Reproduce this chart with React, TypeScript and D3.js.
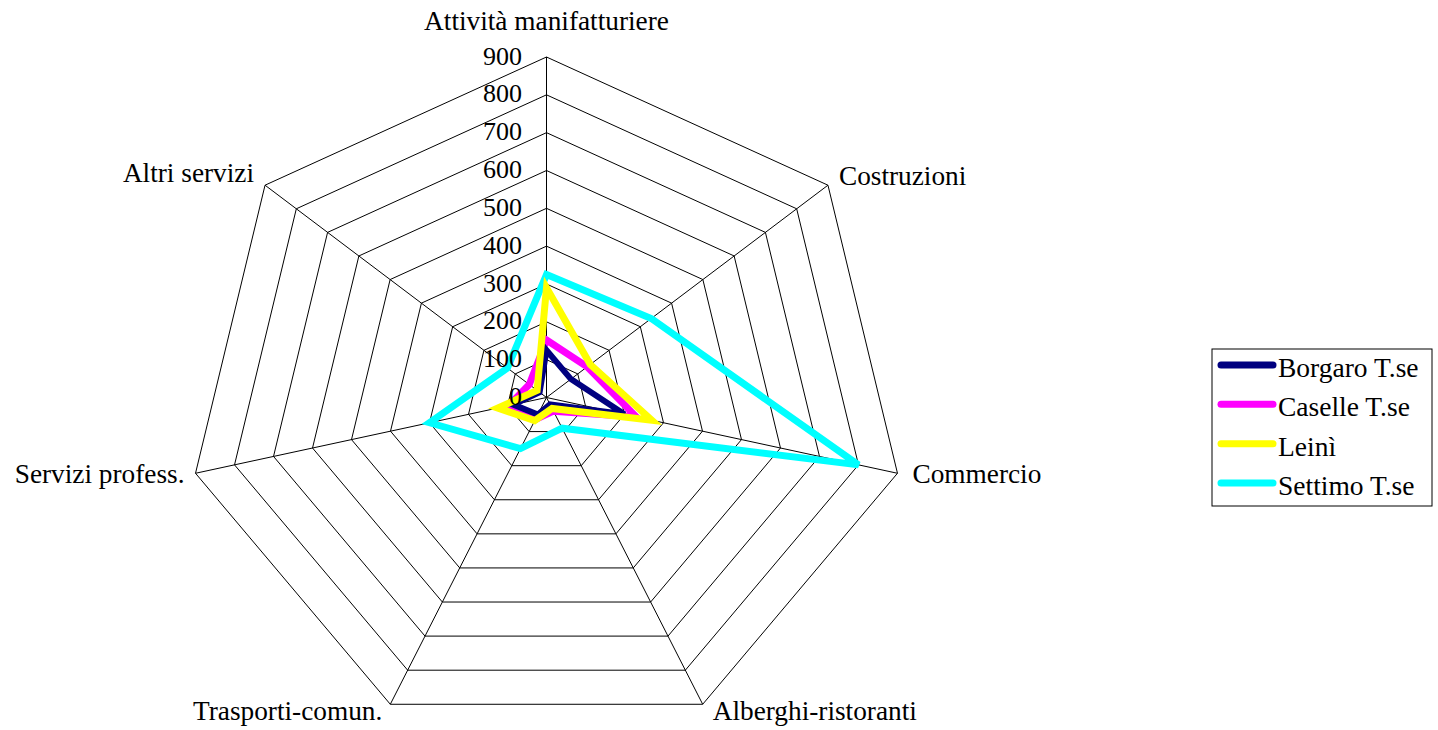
import React from "react";
import * as d3 from "d3";

const categories = [
  "Attività manifatturiere",
  "Costruzioni",
  "Commercio",
  "Alberghi-ristoranti",
  "Trasporti-comun.",
  "Servizi profess.",
  "Altri servizi",
];

const seriesNames = ["Borgaro T.se", "Caselle T.se", "Leinì", "Settimo T.se"];
const seriesColors = ["#000080", "#FF00FF", "#FFFF00", "#00FFFF"];

const borgaro = [125, 78, 200, 20, 50, 85, 22];
const caselle = [152, 130, 230, 40, 65, 97, 55];
const leini = [290, 140, 270, 32, 68, 125, 30];
const settimo = [325, 335, 800, 90, 150, 300, 125];

const tickValues = [0, 100, 200, 300, 400, 500, 600, 700, 800, 900];

const seriesValues = [borgaro, caselle, leini, settimo];
// drawing order (last on top)
const drawOrder = [3, 1, 0, 2];

const W = 1438;
const H = 730;
const cx = 546.5;
const cy = 397.5;
const RX = 360;
const RY = 340.5;
const FONT = "'Liberation Serif', 'Times New Roman', serif";

export default function App() {
  const n = categories.length;
  const angle = d3
    .scaleLinear()
    .domain([0, n])
    .range([0, 2 * Math.PI]);
  const rx = d3.scaleLinear().domain([0, 900]).range([0, RX]);
  const ry = d3.scaleLinear().domain([0, 900]).range([0, RY]);

  const pt = (i: number, v: number): [number, number] => {
    const a = angle(i);
    return [cx + rx(v) * Math.sin(a), cy - ry(v) * Math.cos(a)];
  };

  const ringPath = (v: number) =>
    d3.line().curve(d3.curveLinearClosed)(
      categories.map((_, i) => pt(i, v))
    ) as string;

  const seriesPath = (vals: number[]) =>
    d3.line().curve(d3.curveLinearClosed)(
      vals.map((v, i) => pt(i, v))
    ) as string;

  const labelPos = (i: number) => {
    const [x, y] = pt(i, 900);
    const a = angle(i);
    const s = Math.sin(a);
    const c = Math.cos(a);
    if (Math.abs(s) < 0.01) {
      return { x, y: y - 27, anchor: "middle" };
    }
    if (s > 0) {
      if (c > 0.3) return { x: x + 11, y: y + 0, anchor: "start" };
      if (c > -0.5) return { x: x + 15, y: y + 10, anchor: "start" };
      return { x: x + 10, y: y + 16, anchor: "start" };
    } else {
      if (c > 0.3) return { x: x - 11, y: y - 3, anchor: "end" };
      if (c > -0.5) return { x: x - 11, y: y + 10, anchor: "end" };
      return { x: x - 8, y: y + 16, anchor: "end" };
    }
  };

  const legendX = 1212;
  const legendY = 349;
  const legendW = 220;
  const legendH = 157;
  const rowY = d3
    .scaleLinear()
    .domain([0, 3])
    .range([legendY + 16, legendY + 134]);

  return (
    <svg
      width={W}
      height={H}
      style={{ position: "absolute", left: 0, top: 0, background: "#fff" }}
      fontFamily={FONT}
    >
      <rect x={0} y={0} width={W} height={H} fill="#fff" />
      {tickValues.slice(1).map((v) => (
        <path
          key={"r" + v}
          d={ringPath(v)}
          fill="none"
          stroke="#000"
          strokeWidth={1}
        />
      ))}
      {categories.map((_, i) => {
        const [x, y] = pt(i, 900);
        return (
          <line
            key={"s" + i}
            x1={cx}
            y1={cy}
            x2={x}
            y2={y}
            stroke="#000"
            strokeWidth={1}
          />
        );
      })}
      {drawOrder.map((k) => (
        <path
          key={"p" + k}
          d={seriesPath(seriesValues[k])}
          fill="none"
          stroke={seriesColors[k]}
          strokeWidth={k === 0 ? 6 : 7}
          strokeLinejoin="miter"
        />
      ))}
      {tickValues.map((v) => (
        <text
          key={"t" + v}
          x={cx - 24.5}
          y={cy - ry(v) + 7.5}
          textAnchor="end"
          fontSize={26}
          fill="#000"
        >
          {v}
        </text>
      ))}
      {categories.map((c, i) => {
        const p = labelPos(i);
        return (
          <text
            key={"c" + i}
            x={p.x}
            y={p.y}
            textAnchor={p.anchor as any}
            fontSize={27.3}
            fill="#000"
          >
            {c}
          </text>
        );
      })}
      <rect
        x={legendX}
        y={legendY}
        width={legendW}
        height={legendH}
        fill="#fff"
        stroke="#000"
        strokeWidth={1}
      />
      {seriesNames.map((name, k) => (
        <g key={"l" + k}>
          <line
            x1={legendX + 9}
            x2={legendX + 61}
            y1={rowY(k)}
            y2={rowY(k)}
            stroke={seriesColors[k]}
            strokeWidth={7}
            strokeLinecap="round"
          />
          <text
            x={legendX + 66}
            y={rowY(k) + 12}
            fontSize={27.5}
            fill="#000"
          >
            {name}
          </text>
        </g>
      ))}
    </svg>
  );
}
